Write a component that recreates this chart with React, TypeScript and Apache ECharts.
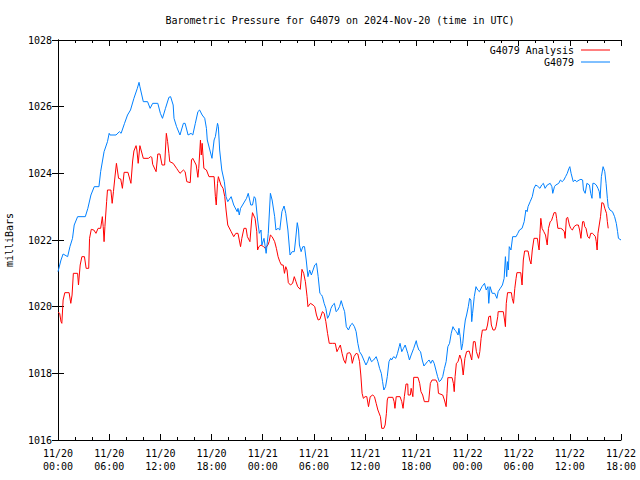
import React, { useEffect, useRef } from "react";
import * as echarts from "echarts";

// hours since 2024-11-20 00:00 UTC
const titleText = "Barometric Pressure for G4079 on 2024-Nov-20 (time in UTC)";
const yAxisName = "milliBars";
const seriesNames = ["G4079 Analysis", "G4079"];
const xTickLabels = [
  "11/20\n00:00", "11/20\n06:00", "11/20\n12:00", "11/20\n18:00",
  "11/21\n00:00", "11/21\n06:00", "11/21\n12:00", "11/21\n18:00",
  "11/22\n00:00", "11/22\n06:00", "11/22\n12:00", "11/22\n18:00",
];

const obsHours = [
  0, 0.35, 0.6, 1.13, 1.4, 1.7, 1.9, 2.3, 3.2, 3.5, 3.86, 4.25, 4.8, 5.0, 5.4, 5.8, 6.0, 6.1, 6.8, 7.2,
  7.4, 7.8, 8.15, 8.5, 8.9, 9.3, 9.5, 9.6, 10.0, 10.5, 10.8, 11.1, 11.7, 12.0, 12.25, 12.6, 13.0, 13.2, 13.5, 13.6,
  13.9, 14.3, 14.7, 14.9, 15.25, 15.6, 15.8, 16.1, 16.4, 16.6, 16.9, 17.2, 17.4, 17.5, 17.8, 18.05, 18.3, 18.45, 18.7, 18.8,
  18.95, 19.2, 19.5, 19.7, 19.9, 20.3, 20.6, 21.0, 21.1, 21.25, 21.4, 22.1, 22.3, 22.6, 22.8, 23.0, 23.15, 23.4, 23.6, 23.8,
  23.9, 24.15, 24.4, 24.65, 24.9, 25.1, 25.4, 25.55, 25.8, 26.0, 26.25, 26.5, 26.7, 26.95, 27.2, 27.45, 27.7, 27.85, 28.05, 28.2,
  28.3, 28.5, 28.7, 28.9, 29.1, 29.3, 29.5, 29.7, 29.9, 30.1, 30.3, 30.5, 30.7, 30.9, 31.0, 31.2, 31.4, 31.6, 31.8, 32.0,
  32.2, 32.4, 32.6, 32.8, 33.0, 33.2, 33.4, 33.6, 33.8, 34.05, 34.3, 34.5, 34.75, 34.95, 35.15, 35.35, 35.6, 35.85, 36.1, 36.3,
  36.5, 36.75, 37.0, 37.3, 37.5, 37.7, 37.9, 38.05, 38.2, 38.4, 38.6, 38.8, 39.0, 39.1, 39.35, 39.6, 39.8, 40.0, 40.1, 40.3,
  40.5, 40.7, 41.0, 41.2, 41.4, 41.7, 42.0, 42.1, 42.3, 42.5, 42.7, 42.9, 43.3, 43.5, 43.7, 43.9, 44.1, 44.3, 44.5, 44.7,
  44.9, 45.1, 45.3, 45.5, 45.7, 45.9, 46.1, 46.3, 46.5, 46.7, 46.9, 47.0, 47.15, 47.3, 47.45, 47.6, 47.75, 47.9, 48.1, 48.25,
  48.4, 48.5, 48.6, 48.8, 49.0, 49.2, 49.4, 49.7, 50.0, 50.2, 50.4, 50.5, 50.65, 50.9, 51.2, 51.45, 51.6, 51.85, 52.1, 52.3,
  52.45, 52.6, 52.7, 52.8, 52.9, 53.1, 53.3, 53.7, 53.9, 54.1, 54.4, 54.65, 54.85, 55.0, 55.1, 55.35, 55.6, 55.8, 56.0, 56.2,
  56.5, 56.7, 56.9, 57.1, 57.35, 57.7, 57.9, 58.0, 58.2, 58.35, 58.5, 58.7, 58.9, 59.1, 59.3, 59.5, 59.7, 59.9, 60.0, 60.15,
  60.4, 60.6, 60.8, 61.1, 61.3, 61.5, 61.6, 61.8, 62.0, 62.3, 62.45, 62.6, 62.7, 62.85, 63.1, 63.3, 63.45, 63.55, 63.7, 63.9,
  64.1, 64.25, 64.4, 64.5, 64.7, 65.0, 65.25, 65.45, 65.6, 65.7, 66.0,
];
const obsPressure = [
  1021.05, 1021.4, 1021.58, 1021.5, 1021.8, 1022.05, 1022.45, 1022.7, 1022.7, 1022.95, 1023.35, 1023.6, 1023.6, 1024.05, 1024.65, 1024.95, 1025.2, 1025.15, 1025.15, 1025.25,
  1025.2, 1025.5, 1025.75, 1025.9, 1026.25, 1026.55, 1026.73, 1026.6, 1026.15, 1026.15, 1025.95, 1026.1, 1026.1, 1025.8, 1025.65, 1025.95, 1026.28, 1026.3, 1026.05, 1025.65,
  1025.4, 1025.15, 1025.5, 1025.5, 1025.15, 1025.2, 1025.15, 1025.5, 1025.85, 1025.9, 1025.75, 1025.65, 1025.35, 1025.0, 1024.7, 1024.45, 1025.0, 1025.1, 1025.5, 1025.4,
  1024.7, 1024.1, 1023.75, 1023.3, 1023.15, 1023.3, 1023.05, 1022.85, 1022.95, 1022.75, 1022.95, 1023.25, 1023.4, 1023.05, 1023.05, 1023.3, 1023.25, 1022.6, 1022.2, 1022.3,
  1021.85, 1022.05, 1021.6, 1022.2, 1023.4, 1023.2, 1022.7, 1022.3, 1022.35, 1022.3, 1022.85, 1023.02, 1022.8, 1022.3, 1021.55, 1021.65, 1021.65, 1022.0, 1022.52, 1022.3,
  1021.85, 1021.65, 1021.8, 1021.8, 1021.4, 1020.9, 1021.1, 1020.95, 1021.1, 1021.25, 1021.3, 1020.9, 1020.4, 1020.35, 1020.3, 1020.1, 1019.95, 1019.65, 1019.75, 1019.95,
  1020.05, 1020.1, 1019.85, 1019.9, 1020.0, 1020.18, 1020.0, 1019.85, 1019.4, 1019.3, 1019.45, 1019.5, 1019.4, 1019.25, 1018.9, 1018.65, 1018.55, 1018.4, 1018.25, 1018.35,
  1018.5, 1018.35, 1018.4, 1018.5, 1018.35, 1018.15, 1018.0, 1017.75, 1017.5, 1017.6, 1017.9, 1018.35, 1018.45, 1018.4, 1018.5, 1018.45, 1018.6, 1018.8, 1018.9, 1018.65,
  1018.75, 1018.85, 1018.6, 1018.4, 1018.55, 1018.75, 1018.98, 1018.85, 1018.7, 1018.65, 1018.4, 1018.22, 1018.35, 1018.4, 1018.3, 1018.4, 1018.3, 1018.1, 1017.9, 1017.75,
  1017.8, 1017.9, 1018.15, 1018.35, 1018.8, 1018.9, 1019.2, 1019.4, 1019.3, 1019.25, 1019.15, 1019.35, 1019.1, 1018.7, 1018.9, 1019.3, 1019.6, 1019.75, 1020.0, 1020.25,
  1020.2, 1019.55, 1019.8, 1020.3, 1020.6, 1020.5, 1020.45, 1020.6, 1020.7, 1020.5, 1020.6, 1020.1, 1020.6, 1020.4, 1020.4, 1020.25, 1020.45, 1020.55, 1020.65, 1020.85,
  1021.5, 1020.9, 1021.35, 1021.1, 1021.8, 1021.7, 1022.1, 1022.1, 1022.2, 1022.3, 1022.35, 1022.55, 1022.9, 1022.85, 1023.0, 1023.15, 1023.3, 1023.55, 1023.65, 1023.62,
  1023.55, 1023.65, 1023.7, 1023.55, 1023.65, 1023.7, 1023.6, 1023.4, 1023.6, 1023.65, 1023.67, 1023.7, 1023.8, 1023.75, 1023.8, 1023.9, 1024.0, 1024.15, 1024.2, 1024.0,
  1023.75, 1023.8, 1023.75, 1023.8, 1023.82, 1023.8, 1023.5, 1023.4, 1023.7, 1023.65, 1023.4, 1023.25, 1023.7, 1023.7, 1023.65, 1023.55, 1023.45, 1023.25, 1023.9, 1024.2,
  1024.05, 1023.7, 1023.25, 1023.0, 1022.9, 1022.85, 1022.7, 1022.5, 1022.25, 1022.05, 1022.0,
];

const anaHours = [
  0, 0.2, 0.35, 0.45, 0.6, 0.8, 1.3, 1.5, 1.65, 1.8, 2.3, 2.4, 2.6, 2.8, 3.1, 3.3, 3.6, 3.7, 3.9, 4.2,
  4.45, 4.7, 5.0, 5.2, 5.3, 5.4, 5.5, 5.7, 5.8, 6.2, 6.35, 6.5, 6.7, 6.85, 7.1, 7.35, 7.55, 7.75, 8.2, 8.55,
  8.75, 8.9, 9.15, 9.25, 9.4, 9.6, 10.0, 10.6, 10.85, 11.0, 11.1, 11.5, 11.7, 11.95, 12.2, 12.5, 12.7, 12.85, 13.0, 13.1,
  13.5, 13.9, 14.3, 14.7, 14.9, 15.1, 15.5, 15.65, 15.8, 16.2, 16.4, 16.5, 16.7, 16.8, 16.9, 17.1, 17.4, 17.7, 18.3, 18.45,
  18.55, 18.7, 18.8, 19.1, 19.35, 19.55, 19.7, 19.9, 20.3, 20.6, 20.85, 21.1, 21.4, 21.55, 21.8, 22.05, 22.2, 22.5, 22.7, 22.8,
  23.1, 23.3, 23.4, 23.55, 23.8, 24.1, 24.3, 24.6, 24.75, 24.9, 25.1, 25.4, 25.6, 25.8, 26.0, 26.2, 26.4, 26.55, 26.7, 26.85,
  27.0, 27.25, 27.5, 27.7, 27.9, 28.1, 28.4, 28.6, 28.8, 29.0, 29.2, 29.3, 29.6, 29.9, 30.1, 30.3, 30.5, 30.7, 31.0, 31.2,
  31.4, 31.6, 31.8, 32.2, 32.5, 32.7, 32.9, 33.1, 33.3, 33.5, 33.7, 33.9, 34.2, 34.35, 34.5, 34.7, 34.95, 35.15, 35.35, 35.5,
  35.65, 35.8, 36.0, 36.2, 36.4, 36.6, 36.9, 37.1, 37.3, 37.5, 37.8, 37.95, 38.2, 38.35, 38.5, 38.6, 38.7, 39.25, 39.4, 39.5,
  39.65, 40.1, 40.3, 40.45, 40.6, 40.8, 41.0, 41.05, 41.3, 41.4, 41.6, 41.7, 42.2, 42.4, 42.55, 42.75, 42.95, 43.45, 43.65, 43.85,
  44.3, 44.5, 44.6, 45.1, 45.3, 45.5, 45.6, 45.7, 46.2, 46.35, 46.45, 46.55, 46.7, 46.9, 47.1, 47.3, 47.5, 47.7, 47.9, 48.2,
  48.5, 48.7, 48.9, 49.05, 49.3, 49.45, 49.6, 49.75, 50.2, 50.35, 50.5, 50.7, 50.8, 51.0, 51.2, 51.35, 51.55, 51.6, 52.2, 52.35,
  52.45, 52.55, 52.7, 53.15, 53.25, 53.4, 53.55, 53.7, 53.8, 54.25, 54.4, 54.55, 54.7, 55.1, 55.3, 55.45, 55.6, 55.8, 56.2, 56.3,
  56.4, 56.5, 56.6, 56.75, 56.95, 57.15, 57.35, 57.5, 57.7, 57.85, 58.0, 58.15, 58.35, 58.45, 58.6, 58.9, 59.1, 59.35, 59.45, 59.6,
  59.75, 59.95, 60.1, 60.3, 60.5, 60.75, 61.0, 61.15, 61.3, 61.5, 61.65, 61.75, 61.9, 62.1, 62.3, 62.45, 62.65, 62.85, 63.0, 63.1,
  63.2, 63.3, 63.6, 63.75, 63.95, 64.1, 64.3, 64.4, 64.5,
];
const anaPressure = [
  1019.83, 1019.8, 1019.55, 1019.5, 1020.2, 1020.42, 1020.42, 1020.1, 1020.35, 1021.0, 1021.0, 1020.65, 1021.25, 1021.5, 1021.5, 1021.15, 1021.15, 1022.05, 1022.32, 1022.3,
  1022.2, 1022.35, 1022.35, 1022.7, 1022.4, 1021.95, 1022.4, 1023.15, 1023.5, 1023.5, 1023.1, 1023.45, 1023.95, 1024.3, 1023.85, 1023.83, 1023.55, 1024.03, 1024.03, 1023.7,
  1024.37, 1024.67, 1024.83, 1024.7, 1024.3, 1024.83, 1024.45, 1024.45, 1024.5, 1024.48, 1024.27, 1024.05, 1024.58, 1024.58, 1024.25, 1024.25, 1025.2, 1024.95, 1024.6, 1024.35,
  1024.3, 1024.15, 1024.0, 1024.1, 1024.05, 1023.75, 1023.72, 1024.4, 1024.45, 1024.25, 1023.88, 1024.15, 1025.0, 1024.55, 1024.9, 1024.15, 1024.1, 1023.9, 1023.9, 1023.3,
  1023.05, 1023.7, 1023.9, 1023.65, 1023.55, 1023.3, 1022.9, 1022.45, 1022.25, 1022.1, 1022.2, 1022.2, 1021.8, 1022.05, 1022.35, 1022.35, 1022.1, 1021.95, 1022.6, 1022.82,
  1022.65, 1022.25, 1021.7, 1021.8, 1021.85, 1021.8, 1021.75, 1021.85, 1021.95, 1022.15, 1022.1, 1021.95, 1021.75, 1021.5, 1021.35, 1021.25, 1021.25, 1021.0, 1021.2, 1021.1,
  1020.72, 1020.65, 1020.7, 1020.9, 1020.75, 1020.6, 1020.52, 1021.12, 1021.0, 1020.75, 1020.3, 1020.0, 1020.1, 1020.05, 1020.0, 1019.75, 1019.6, 1019.62, 1019.85, 1019.8,
  1019.55, 1019.2, 1018.9, 1018.9, 1018.9, 1018.65, 1018.75, 1018.85, 1018.6, 1018.4, 1018.3, 1018.6, 1018.62, 1018.55, 1018.3, 1018.5, 1018.6, 1018.58, 1018.35, 1017.95,
  1017.4, 1017.25, 1017.3, 1017.3, 1017.0, 1017.3, 1017.35, 1017.3, 1017.1, 1016.9, 1016.7, 1016.35, 1016.35, 1016.45, 1016.8, 1017.2, 1017.28, 1017.28, 1017.15, 1016.95,
  1017.3, 1017.3, 1017.15, 1016.95, 1017.3, 1017.68, 1017.68, 1017.35, 1017.35, 1017.55, 1017.3, 1017.88, 1017.88, 1017.7, 1017.45, 1017.35, 1017.15, 1017.15, 1017.7, 1017.8,
  1017.8, 1017.7, 1017.4, 1017.35, 1017.2, 1017.0, 1017.4, 1017.87, 1017.87, 1017.7, 1017.45, 1017.9, 1018.3, 1018.35, 1018.55, 1018.4, 1017.95, 1018.45, 1018.65, 1018.67,
  1018.4, 1018.95, 1018.95, 1018.65, 1018.45, 1018.65, 1019.05, 1019.3, 1019.3, 1019.45, 1019.7, 1019.72, 1019.45, 1019.3, 1019.3, 1019.4, 1019.7, 1019.85, 1019.85, 1019.6,
  1019.4, 1020.1, 1020.42, 1020.42, 1020.25, 1020.1, 1020.55, 1020.85, 1021.02, 1021.02, 1020.65, 1021.4, 1021.67, 1021.67, 1021.4, 1021.28, 1021.7, 1022.05, 1022.05, 1021.85,
  1021.7, 1022.2, 1022.65, 1022.35, 1022.25, 1022.15, 1021.85, 1022.35, 1022.55, 1022.58, 1022.7, 1022.82, 1022.82, 1022.65, 1022.35, 1022.35, 1022.33, 1022.25, 1022.05, 1022.65,
  1022.68, 1022.45, 1022.35, 1022.3, 1022.4, 1022.45, 1022.45, 1022.3, 1022.05, 1022.55, 1022.55, 1022.4, 1022.35, 1022.1, 1022.05, 1022.2, 1022.2, 1022.15, 1022.1, 1021.95,
  1021.7, 1022.2, 1022.7, 1023.12, 1023.1, 1022.95, 1022.8, 1022.55, 1022.35,
];

const FONT = "DejaVu Sans Mono";
const RED = "#ff0000";
const BLUE = "#0080ff";

function zip(xs: number[], ys: number[]) {
  return xs.map((x, i) => [x, ys[i]]);
}

export default function App() {
  const ref = useRef<HTMLDivElement>(null);
  useEffect(() => {
    if (!ref.current) return;
    const chart = echarts.init(ref.current, null, { renderer: "svg" });
    const axisBase = {
      type: "value" as const,
      axisLine: { show: true, lineStyle: { color: "#000", width: 1 } },
      axisTick: { show: true, inside: true, length: 6, lineStyle: { color: "#000", width: 1 } },
      splitLine: { show: false },
    };
    const xBase = {
      ...axisBase,
      min: 0,
      max: 66,
      interval: 6,
      minorTick: { show: true, splitNumber: 3, length: 3, lineStyle: { color: "#000", width: 1 } },
      minorSplitLine: { show: false },
    };
    const yBase = { ...axisBase, min: 1016, max: 1028, interval: 2 };
    chart.setOption({
      animation: false,
      backgroundColor: "#ffffff",
      textStyle: { fontFamily: FONT },
      grid: { left: 58, right: 19, top: 40, bottom: 40, containLabel: false, outerBoundsMode: "none" },
      xAxis: [
        {
          ...xBase,
          position: "bottom",
          axisLabel: {
            show: true,
            color: "#000",
            fontFamily: FONT,
            fontSize: 10,
            lineHeight: 13,
            margin: 7,
            hideOverlap: false,
            formatter: (v: number) => xTickLabels[Math.round(v / 6)] ?? "",
          },
        },
        { ...xBase, position: "top", axisLabel: { show: false } },
      ],
      yAxis: [
        {
          ...yBase,
          position: "left",
          name: yAxisName,
          nameLocation: "middle",
          nameRotate: 90,
          nameGap: 44,
          nameTextStyle: { color: "#000", fontFamily: FONT, fontSize: 10 },
          axisLabel: {
            show: true,
            color: "#000",
            fontFamily: FONT,
            fontSize: 10,
            margin: 6,
            formatter: (v: number) => String(v),
          },
        },
        { ...yBase, position: "right", axisLabel: { show: false } },
      ],
      graphic: [
        {
          type: "text",
          x: 340,
          y: 20,
          style: {
            text: titleText,
            textAlign: "center",
            textVerticalAlign: "middle",
            font: `10px "${FONT}"`,
            fill: "#000",
          },
        },
        {
          type: "text",
          x: 574,
          y: 50,
          style: { text: seriesNames[0], textAlign: "right", textVerticalAlign: "middle", font: `10px "${FONT}"`, fill: "#000" },
        },
        { type: "line", shape: { x1: 581, y1: 50, x2: 610, y2: 50 }, style: { stroke: RED, lineWidth: 1 } },
        {
          type: "text",
          x: 574,
          y: 62,
          style: { text: seriesNames[1], textAlign: "right", textVerticalAlign: "middle", font: `10px "${FONT}"`, fill: "#000" },
        },
        { type: "line", shape: { x1: 581, y1: 62, x2: 610, y2: 62 }, style: { stroke: BLUE, lineWidth: 1 } },
      ],
      series: [
        {
          name: seriesNames[0],
          type: "line",
          data: zip(anaHours, anaPressure),
          showSymbol: false,
          symbol: "none",
          lineStyle: { color: RED, width: 1 },
          itemStyle: { color: RED },
          xAxisIndex: 0,
          yAxisIndex: 0,
        },
        {
          name: seriesNames[1],
          type: "line",
          data: zip(obsHours, obsPressure),
          showSymbol: false,
          symbol: "none",
          lineStyle: { color: BLUE, width: 1 },
          itemStyle: { color: BLUE },
          xAxisIndex: 0,
          yAxisIndex: 0,
        },
      ],
    });
    return () => chart.dispose();
  }, []);
  return (
    <div
      ref={ref}
      style={{ position: "fixed", left: 0, top: 0, width: 640, height: 480, background: "#fff" }}
    />
  );
}
